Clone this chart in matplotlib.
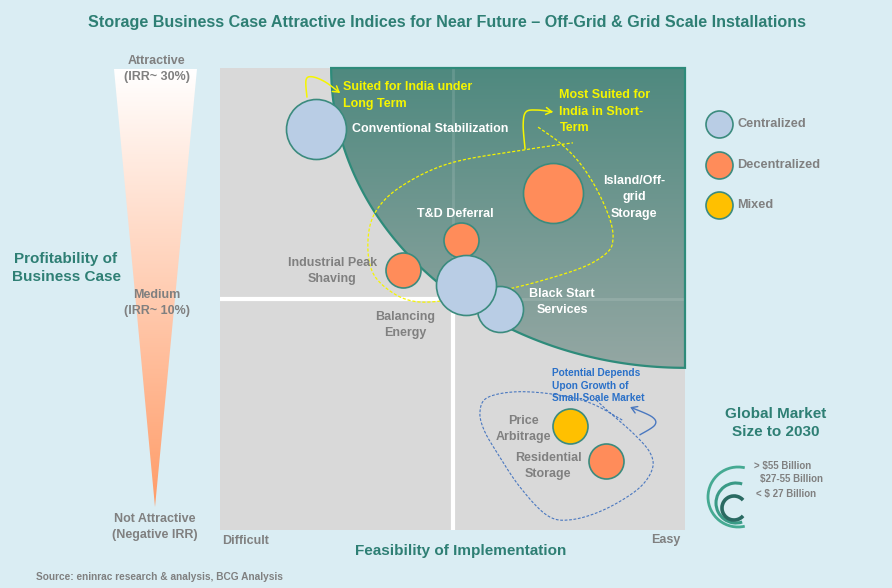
import numpy as np
import matplotlib
matplotlib.use('Agg')
import matplotlib.pyplot as plt
from matplotlib.patches import Polygon, Arc, FancyArrowPatch
from matplotlib.path import Path
from matplotlib.colors import LinearSegmentedColormap

plt.rcParams['font.family'] = ['Liberation Sans', 'DejaVu Sans']

# data
apps = ['Conventional Stabilization', 'Island/Off-\ngrid\nStorage', 'T&D Deferral',
        'Industrial Peak\nShaving', 'Black Start\nServices', 'Balancing\nEnergy',
        'Price\nArbitrage', 'Residential\nStorage']
feasibility = [2.06, 7.16, 5.18, 3.94, 6.02, 5.29, 7.53, 8.30]
profitability = [8.68, 7.29, 6.28, 5.63, 4.78, 5.30, 2.25, 1.49]
segment = ['Centralized', 'Decentralized', 'Decentralized', 'Decentralized',
           'Centralized', 'Centralized', 'Mixed', 'Decentralized']
market = ['> $55 Billion', '> $55 Billion', '< $ 27 Billion', '< $ 27 Billion',
          '$27-55 Billion', '> $55 Billion', '< $ 27 Billion', '< $ 27 Billion']
segments = ['Centralized', 'Decentralized', 'Mixed']
markets = ['> $55 Billion', '$27-55 Billion', '< $ 27 Billion']

# styles
BG = '#DAEDF3'
TEAL = '#2E7F74'
GRAY = '#808080'
YEL = '#F5F500'
BLUE = '#2A70C8'
seg_color = {'Centralized': '#B9CDE5', 'Decentralized': '#FF8C5A', 'Mixed': '#FFC000'}
size_px = {'> $55 Billion': 30, '$27-55 Billion': 23, '< $ 27 Billion': 17.5}
# label offset (pixels), alignment, colour
lab = {
    'Conventional Stabilization': ((36, 0), 'left', 'white'),
    'Island/Off-\ngrid\nStorage': ((81, -4), 'center', 'white'),
    'T&D Deferral': ((-6, 26), 'center', 'white'),
    'Industrial Peak\nShaving': ((-71, -1), 'center', GRAY),
    'Black Start\nServices': ((62, 7), 'center', 'white'),
    'Balancing\nEnergy': ((-61, -40), 'center', GRAY),
    'Price\nArbitrage': ((-47, -3), 'center', GRAY),
    'Residential\nStorage': ((-58, -5), 'center', GRAY),
}


def smooth(pts, n=20):
    pts = np.asarray(pts, float)
    P = np.vstack([pts[0], pts, pts[-1]])
    out = []
    t = np.linspace(0, 1, n, endpoint=False)[:, None]
    for i in range(1, len(P) - 2):
        p0, p1, p2, p3 = P[i - 1], P[i], P[i + 1], P[i + 2]
        out.append(0.5 * (2 * p1 + (-p0 + p2) * t + (2 * p0 - 5 * p1 + 4 * p2 - p3) * t ** 2
                          + (-p0 + 3 * p1 - 3 * p2 + p3) * t ** 3))
    out.append(pts[-1:])
    return np.vstack(out)


fig = plt.figure(figsize=(8.92, 5.88), dpi=100, facecolor=BG)

# overlay axes in pixel coordinates
bg = fig.add_axes([0, 0, 1, 1])
bg.set_xlim(0, 892)
bg.set_ylim(588, 0)
bg.axis('off')

# quadrant chart
ax = fig.add_axes([220 / 892, 58 / 588, 465 / 892, 462 / 588])
ax.set_xlim(0, 10)
ax.set_ylim(0, 10)
ax.axis('off')
ax.add_patch(plt.Rectangle((0, 0), 10, 10, color='#D9D9D9', zorder=0))
ax.axvline(5, color='white', lw=3, zorder=1)
ax.axhline(5, color='white', lw=3, zorder=1)

# attractive zone
a, b = 7.61, 6.49
t = np.linspace(np.pi, 1.5 * np.pi, 100)
zone = np.column_stack([10 + a * np.cos(t), 10 + b * np.sin(t)])
zone = np.vstack([zone, [[10, 10]]])
zp = Polygon(zone, closed=True, fc='none', ec='#2E8B7A', lw=1.6, zorder=3, clip_on=False)
ax.add_patch(zp)
cm = LinearSegmentedColormap.from_list('z', ['#94A7A3', '#4F897F'])
im = ax.imshow(np.linspace(0, 1, 200)[:, None], extent=[0, 10, 10 - b, 10], origin='lower',
               cmap=cm, aspect='auto', zorder=2)
im.set_clip_path(zp)
ax.set_xlim(0, 10)
ax.set_ylim(0, 10)
for ln in (ax.axvline(5, color='white', lw=2, alpha=0.12, zorder=2.5),
           ax.axhline(5, color='white', lw=2, alpha=0.12, zorder=2.5)):
    ln.set_clip_path(zp)

# yellow loop and arrows
loop = smooth([(6.84, 8.72), (7.31, 8.38), (7.74, 7.94), (8.11, 7.36), (8.39, 6.71), (8.45, 6.28),
               (8.32, 6.00), (7.81, 5.69), (6.82, 5.37), (5.81, 5.13), (4.95, 4.98), (4.24, 4.94),
               (3.72, 5.13), (3.29, 5.56), (3.18, 6.21), (3.33, 6.86), (3.87, 7.42), (4.95, 7.94),
               (6.56, 8.23), (7.59, 8.38)])
ax.plot(loop[:, 0], loop[:, 1], color=YEL, lw=0.9, ls=(0, (2.5, 1.5)), zorder=4)
for pts in ([(6.56, 8.25), (6.52, 8.77), (6.58, 9.05), (6.82, 9.09), (7.16, 9.05)],
            [(1.87, 9.37), (1.85, 9.74), (1.98, 9.81), (2.26, 9.70), (2.58, 9.46)]):
    c = smooth(pts, 10)
    ax.add_patch(FancyArrowPatch(path=Path(c), arrowstyle='->,head_length=4,head_width=2.5',
                                 color=YEL, lw=1.1, zorder=4))

# blue loop and arrow
bl = smooth([(8.65, 2.38), (7.96, 2.75), (7.16, 2.94), (6.34, 2.99), (5.74, 2.86), (5.59, 2.55),
             (5.68, 2.16), (5.96, 1.67), (6.45, 0.93), (7.03, 0.32), (7.53, 0.22), (8.24, 0.43),
             (8.97, 0.87), (9.29, 1.30), (9.25, 1.67), (8.88, 2.10), (8.39, 2.53), (8.02, 2.88)])
ax.plot(bl[:, 0], bl[:, 1], color='#4A78C0', lw=0.8, ls=(0, (2.5, 1.5)), zorder=4)
c = smooth([(9.03, 2.06), (9.35, 2.27), (9.29, 2.45), (8.82, 2.66)], 10)
ax.add_patch(FancyArrowPatch(path=Path(c), arrowstyle='->,head_length=4,head_width=2.5',
                             color='#4A78C0', lw=1.0, zorder=4))

# bubbles
for i, name in enumerate(apps):
    r = size_px[market[i]]
    ax.scatter(feasibility[i], profitability[i], s=(1.44 * r) ** 2, c=seg_color[segment[i]],
               edgecolors='#3B8B7E', linewidths=1.2, zorder=5 + i * 0.1)
    off, ha, col = lab[name]
    ax.annotate(name, (feasibility[i], profitability[i]), xytext=off, textcoords='offset pixels',
                ha=ha, va='center', color=col, fontsize=9, fontweight='bold',
                linespacing=1.5, multialignment='center', zorder=7)

ax.text(2.65, 9.40, 'Suited for India under\nLong Term', color=YEL, fontsize=9, fontweight='bold',
        va='center', ha='left', linespacing=1.5, zorder=7)
ax.text(7.30, 9.05, 'Most Suited for\nIndia in Short-\nTerm', color=YEL, fontsize=9,
        fontweight='bold', va='center', ha='left', linespacing=1.5, zorder=7)
ax.text(7.15, 3.12, 'Potential Depends\nUpon Growth of\nSmall-Scale Market', color=BLUE,
        fontsize=7.3, fontweight='bold', va='center', ha='left', linespacing=1.3, zorder=7)

# profitability triangle
tri = Polygon([(114, 69), (197, 69), (155, 507)], closed=True, fc='none', ec='none')
bg.add_patch(tri)
tcm = LinearSegmentedColormap.from_list('t', ['#FFFFFF', '#FF9C68'])
ti = bg.imshow(np.linspace(0, 1, 200)[:, None], extent=[114, 197, 507, 69], cmap=tcm,
               aspect='auto', zorder=1)
ti.set_clip_path(tri)
bg.set_xlim(0, 892)
bg.set_ylim(588, 0)

txt = dict(color=GRAY, fontsize=9, fontweight='bold', ha='center', va='center', linespacing=1.45,
           zorder=3)
bg.text(157, 69, 'Attractive\n(IRR~ 30%)', **txt)
bg.text(157, 303, 'Medium\n(IRR~ 10%)', **txt)
bg.text(155, 527, 'Not Attractive\n(Negative IRR)', **txt)
bg.text(66, 268, 'Profitability of\nBusiness Case', color=TEAL, fontsize=11, fontweight='bold',
        ha='center', va='center', linespacing=1.4)

bg.text(447, 22, 'Storage Business Case Attractive Indices for Near Future \u2013 Off-Grid & Grid Scale Installations',
        color=TEAL, fontsize=11.6, fontweight='bold', ha='center', va='center')
bg.text(222, 541, 'Difficult', color=GRAY, fontsize=9, fontweight='bold', ha='left', va='center')
bg.text(680, 540, 'Easy', color=GRAY, fontsize=9, fontweight='bold', ha='right', va='center')
bg.text(461, 551, 'Feasibility of Implementation', color=TEAL, fontsize=11, fontweight='bold',
        ha='center', va='center')
bg.text(36, 577, 'Source: eninrac research & analysis, BCG Analysis', color=GRAY, fontsize=7.3,
        fontweight='bold', ha='left', va='center')

# segment legend
for k, sname in enumerate(segments):
    y = 124 + k * 40.5
    bg.scatter(719, y, s=(1.44 * 13.5) ** 2, c=seg_color[sname], edgecolors='#3B8B7E',
               linewidths=1.2, zorder=3)
    bg.text(737, y, sname, color=GRAY, fontsize=9.2, fontweight='bold', ha='left', va='center')

# market size key
bg.text(776, 423, 'Global Market\nSize to 2030', color=TEAL, fontsize=11, fontweight='bold',
        ha='center', va='center', linespacing=1.4)
arcs = [((738, 497), 30, 77, '#45AA92', 2.0), ((736, 503), 20, 72, '#3A9A86', 2.2),
        ((734, 508), 12, 41, '#2A6A62', 2.6)]
for (cx, cy), r, th, col, w in arcs:
    bg.add_patch(Arc((cx, cy), 2 * r, 2 * r, theta1=th, theta2=360 - th, color=col, lw=w))
for k, mname in enumerate(markets):
    bg.text([754, 760, 756][k], [466, 479, 494][k], mname, color=GRAY, fontsize=7,
            fontweight='bold', ha='left', va='center')

fig.savefig('out.png', dpi=100, facecolor=BG)
